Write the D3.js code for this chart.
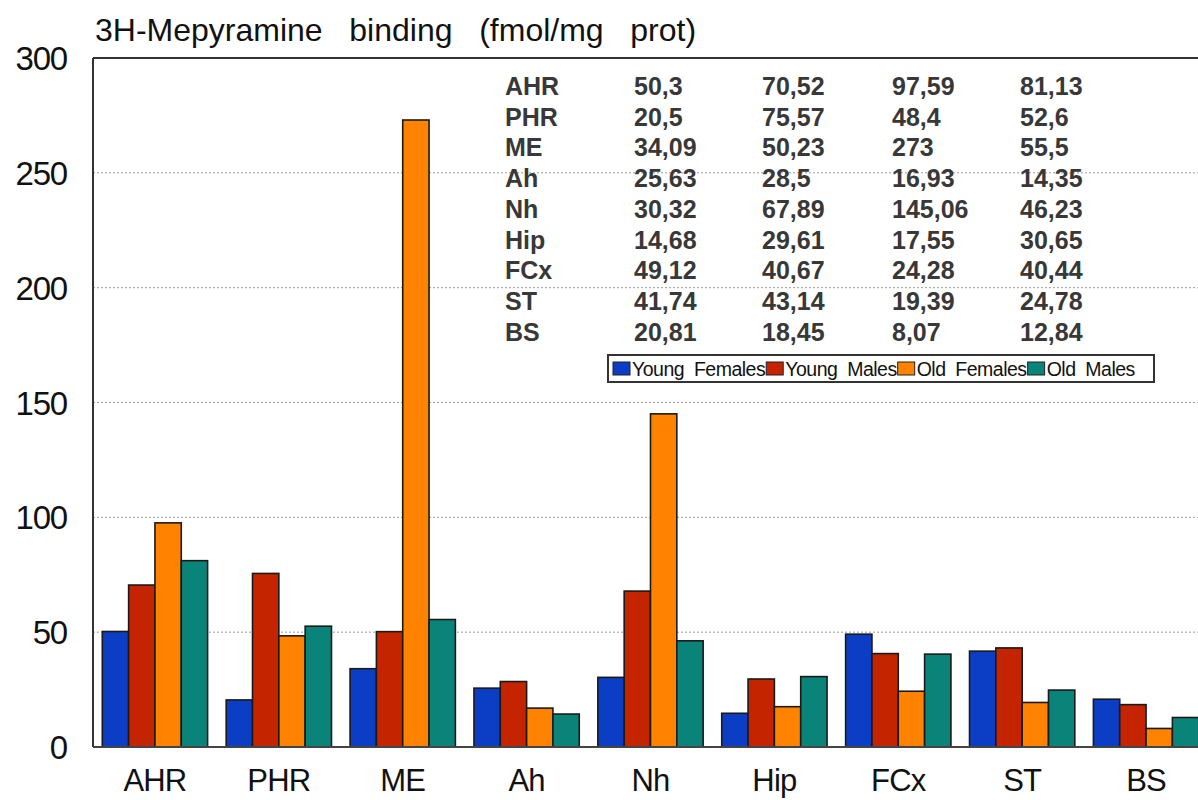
<!DOCTYPE html>
<html>
<head>
<meta charset="utf-8">
<script src="https://cdn.jsdelivr.net/npm/d3@7"></script>
<style>
  body { margin: 0; background: #fff; }
  svg text { font-family: "Liberation Sans", Arial, sans-serif; white-space: pre; }
</style>
</head>
<body>
<div id="chart-area"></div>
<script>
// values from the figure (fmol/mg prot)
var categories = ["AHR", "PHR", "ME", "Ah", "Nh", "Hip", "FCx", "ST", "BS"];
var youngFemales = [50.3, 20.5, 34.09, 25.63, 30.32, 14.68, 49.12, 41.74, 20.81];
var youngMales = [70.52, 75.57, 50.23, 28.5, 67.89, 29.61, 40.67, 43.14, 18.45];
var oldFemales = [97.59, 48.4, 273, 16.93, 145.06, 17.55, 24.28, 19.39, 8.07];
var oldMales = [81.13, 52.6, 55.5, 14.35, 46.23, 30.65, 40.44, 24.78, 12.84];
var seriesNames = ["Young  Females", "Young  Males", "Old  Females", "Old  Males"];
var yTicks = [0, 50, 100, 150, 200, 250, 300];

var seriesColors = ["#0b3ec4", "#c42400", "#ff8300", "#0a8479"];
var series = [youngFemales, youngMales, oldFemales, oldMales];

var width = 1198, height = 800;
var margin = {top: 58, left: 93, bottom: 53};

var svg = d3.select("#chart-area").append("svg")
    .attr("width", width)
    .attr("height", height);

var x = d3.scaleBand()
    .domain(categories)
    .range([margin.left, 1208])
    .paddingInner(0.15)
    .paddingOuter(0.075);

var xSub = d3.scaleBand()
    .domain(d3.range(series.length))
    .range([0, x.bandwidth()]);

var y = d3.scaleLinear()
    .domain([0, 300])
    .range([height - margin.bottom, margin.top]);

// gridlines
svg.append("g").selectAll("line")
    .data(yTicks.filter(function(d){ return d > 0 && d < 300; }))
    .enter().append("line")
    .attr("x1", margin.left)
    .attr("x2", width)
    .attr("y1", function(d){ return y(d); })
    .attr("y2", function(d){ return y(d); })
    .attr("stroke", "#9a9a9a")
    .attr("stroke-width", 1)
    .attr("stroke-dasharray", "2,2");

// bars
var groups = svg.append("g").selectAll("g")
    .data(categories)
    .enter().append("g")
    .attr("transform", function(d){ return "translate(" + x(d) + ",0)"; });

groups.selectAll("rect")
    .data(function(d, i){ return series.map(function(s, j){ return {s: j, v: s[i]}; }); })
    .enter().append("rect")
    .attr("x", function(d){ return xSub(d.s); })
    .attr("width", xSub.bandwidth())
    .attr("y", function(d){ return y(d.v); })
    .attr("height", function(d){ return y(0) - y(d.v); })
    .attr("fill", function(d){ return seriesColors[d.s]; })
    .attr("stroke", "#1a1a1a")
    .attr("stroke-width", 1.6);

// frame: left, top, bottom
svg.append("line")
    .attr("x1", margin.left).attr("x2", margin.left)
    .attr("y1", y(300)).attr("y2", y(0))
    .attr("stroke", "#333").attr("stroke-width", 2);
svg.append("line")
    .attr("x1", margin.left).attr("x2", width)
    .attr("y1", y(300)).attr("y2", y(300))
    .attr("stroke", "#333").attr("stroke-width", 2);
svg.append("line")
    .attr("x1", margin.left).attr("x2", width)
    .attr("y1", y(0)).attr("y2", y(0))
    .attr("stroke", "#444").attr("stroke-width", 2);

// y tick labels
svg.append("g").selectAll("text")
    .data(yTicks)
    .enter().append("text")
    .attr("x", 67)
    .attr("y", function(d){ return y(d) + 12; })
    .attr("text-anchor", "end")
    .attr("font-size", "33px")
    .attr("letter-spacing", "-1.2px")
    .attr("fill", "#111")
    .text(function(d){ return d; });

// x labels
svg.append("g").selectAll("text")
    .data(categories)
    .enter().append("text")
    .attr("x", function(d){ return x(d) + x.bandwidth() / 2; })
    .attr("y", 791)
    .attr("text-anchor", "middle")
    .attr("font-size", "31px")
    .attr("letter-spacing", "-0.8px")
    .attr("fill", "#111")
    .text(function(d){ return d; });

// title
svg.append("text")
    .attr("x", 95)
    .attr("y", 41)
    .attr("font-size", "32px")
    .attr("letter-spacing", "0px")
    .attr("fill", "#111")
    .text("3H-Mepyramine   binding   (fmol/mg   prot)");

// data table
var colX = [505, 634, 762, 892, 1020];
var fmt = function(v){ return String(v).replace(".", ","); };
var table = svg.append("g")
    .attr("font-size", "25px")
    .attr("font-weight", "bold")
    .attr("fill", "#383838");

categories.forEach(function(c, i){
    var by = 95 + i * 30.7;
    var row = [c].concat(series.map(function(s){ return fmt(s[i]); }));
    row.forEach(function(t, k){
        table.append("text")
            .attr("x", colX[k])
            .attr("y", by)
            .text(t);
    });
});

// legend
var legend = svg.append("g");
legend.append("rect")
    .attr("x", 608).attr("y", 355)
    .attr("width", 546).attr("height", 27)
    .attr("fill", "#fff")
    .attr("stroke", "#333")
    .attr("stroke-width", 2);

var lx = 613;
seriesNames.forEach(function(name, i){
    legend.append("rect")
        .attr("x", lx).attr("y", 362)
        .attr("width", 17).attr("height", 13)
        .attr("fill", seriesColors[i])
        .attr("stroke", "#222")
        .attr("stroke-width", 1);
    var t = legend.append("text")
        .attr("x", lx + 19)
        .attr("y", 376)
        .attr("font-size", "19.5px")
        .attr("letter-spacing", "-0.5px")
        .attr("fill", "#111")
        .text(name);
    lx += 19 + t.node().getComputedTextLength() + 1;
});
</script>
</body>
</html>
